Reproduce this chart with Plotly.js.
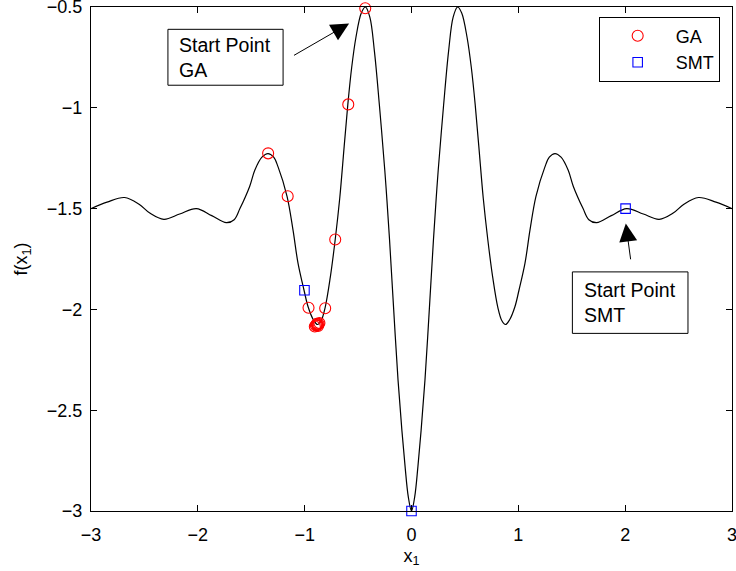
<!DOCTYPE html>
<html>
<head>
<meta charset="utf-8">
<script src="https://cdn.plot.ly/plotly-3.0.1.min.js"></script>
<style>html,body{margin:0;padding:0;background:#fff;}#chart{width:736px;height:571px;}</style>
</head>
<body>
<div id="chart"></div>
<script>
// Curve f(x1), points
var curveX = [-3.00,-2.85,-2.686,-2.55,-2.45,-2.318,-2.17,-2.014,-1.87,-1.733,-1.66,-1.606,-1.515,-1.467,-1.40,-1.343,-1.29,-1.249,-1.165,-1.109,-1.062,-1.006,-0.968,-0.92,-0.88,-0.845,-0.808,-0.76,-0.714,-0.672,-0.63,-0.596,-0.56,-0.52,-0.47,-0.432,-0.39,-0.347,-0.30,-0.25,-0.23,-0.206,-0.172,-0.126,-0.09,-0.06,-0.03,0,
  0.03,0.06,0.09,0.126,0.172,0.206,0.23,0.25,0.30,0.347,0.39,0.432,0.47,0.52,0.56,0.596,0.63,0.672,0.714,0.76,0.808,0.845,0.88,0.92,0.968,1.006,1.062,1.109,1.165,1.249,1.29,1.343,1.40,1.467,1.515,1.606,1.66,1.733,1.87,2.014,2.17,2.318,2.45,2.55,2.686,2.85,3.00];
var curveY = [-1.500,-1.468,-1.445,-1.478,-1.522,-1.553,-1.527,-1.500,-1.535,-1.570,-1.555,-1.500,-1.390,-1.310,-1.245,-1.227,-1.245,-1.293,-1.439,-1.607,-1.772,-1.905,-1.987,-2.050,-2.075,-2.055,-1.990,-1.840,-1.653,-1.450,-1.190,-0.983,-0.800,-0.650,-0.530,-0.500,-0.550,-0.720,-0.990,-1.310,-1.458,-1.650,-1.954,-2.351,-2.600,-2.780,-2.930,-3.000,
  -2.930,-2.780,-2.600,-2.351,-1.954,-1.650,-1.458,-1.310,-0.990,-0.720,-0.550,-0.500,-0.530,-0.650,-0.800,-0.983,-1.190,-1.450,-1.653,-1.840,-1.990,-2.055,-2.075,-2.050,-1.987,-1.905,-1.772,-1.607,-1.439,-1.293,-1.245,-1.227,-1.245,-1.310,-1.390,-1.500,-1.555,-1.570,-1.535,-1.500,-1.527,-1.553,-1.522,-1.478,-1.445,-1.468,-1.500];

// GA iterates
var gaX = [-0.433,-0.592,-1.342,-1.159,-0.714,-0.964,-0.808,-0.905,-0.895,-0.885,-0.878,-0.870,-0.862,-0.875,-0.888];
var gaY = [-0.506,-0.983,-1.226,-1.439,-1.653,-1.992,-1.994,-2.085,-2.080,-2.078,-2.075,-2.072,-2.068,-2.082,-2.072];

// SMT iterates
var smtX = [2.004,-1.002,0.0];
var smtY = [-1.500,-1.905,-3.000];

var xTicks = [-3,-2,-1,0,1,2,3];
var yTicks = [-3,-2.5,-2,-1.5,-1,-0.5];

var FONT = 'Liberation Sans, Arial, Helvetica, sans-serif';

var traces = [
  {x: curveX, y: curveY, mode: 'lines', line: {color: '#000', width: 1.2, shape: 'spline', smoothing: 1}, showlegend: false, hoverinfo: 'skip'},
  {x: gaX, y: gaY, mode: 'markers', name: 'GA', cliponaxis: false,
   marker: {symbol: 'circle-open', size: 11, color: '#ff0000', line: {width: 1.1, color: '#ff0000'}}},
  {x: smtX, y: smtY, mode: 'markers', name: 'SMT', cliponaxis: false,
   marker: {symbol: 'square-open', size: 9.5, color: '#0000ff', line: {width: 1.1, color: '#0000ff'}}}
];

var axisCommon = {
  showgrid: false, zeroline: false, showline: true, linecolor: '#000', linewidth: 1,
  mirror: 'ticks', ticks: 'inside', ticklen: 6, tickwidth: 1, tickcolor: '#000',
  ticklabeloverflow: 'allow',
  tickfont: {family: FONT, size: 18, color: '#000'}
};

var layout = {
  width: 736, height: 571,
  margin: {l: 91, r: 4, t: 7, b: 60},
  paper_bgcolor: '#fff', plot_bgcolor: '#fff',
  font: {family: FONT, color: '#000'},
  xaxis: Object.assign({}, axisCommon, {range: [-3.0001, 3.0001], tickvals: xTicks, ticktext: xTicks.map(function(v){return (v<0?'\u2212':'')+Math.abs(v);}), ticklabelstandoff: 7,
    title: {text: 'x<sub>1</sub>', font: {family: FONT, size: 18}, standoff: 5}}),
  yaxis: Object.assign({}, axisCommon, {range: [-3.0001, -0.4999], tickvals: yTicks, ticktext: yTicks.map(function(v){return (v<0?'\u2212':'')+Math.abs(v);}), ticklabelstandoff: 4,
    title: {text: 'f(x<sub>1</sub>)', font: {family: FONT, size: 18}, standoff: 14}}),
  showlegend: true,
  legend: {x: 0.792, y: 0.981, xanchor: 'left', yanchor: 'top', bordercolor: '#000', borderwidth: 1,
    bgcolor: '#fff', font: {family: FONT, size: 18, color: '#000'}, itemwidth: 66, tracegroupgap: 0},
  shapes: [
    {type: 'rect', xref: 'x', yref: 'y', x0: -2.280, x1: -1.202, y0: -0.6106, y1: -0.888, line: {color: '#000', width: 1}, fillcolor: '#fff', layer: 'above'},
    {type: 'rect', xref: 'x', yref: 'y', x0: 1.506, x1: 2.588, y0: -1.814, y1: -2.119, line: {color: '#000', width: 1}, fillcolor: '#fff', layer: 'above'}
  ],
  annotations: [
    {xref: 'x', yref: 'y', x: -2.195, y: -0.749, xanchor: 'left', yanchor: 'middle', align: 'left', showarrow: false,
     text: 'Start Point<br>GA', font: {family: FONT, size: 19.5, color: '#000'}},
    {xref: 'x', yref: 'y', x: 1.596, y: -1.967, xanchor: 'left', yanchor: 'middle', align: 'left', showarrow: false,
     text: 'Start Point<br>SMT', font: {family: FONT, size: 19.5, color: '#000'}},
    {xref: 'x', yref: 'y', axref: 'x', ayref: 'y', x: -0.584, y: -0.582, ax: -1.114, ay: -0.744, text: '',
     showarrow: true, arrowhead: 2, arrowsize: 3.6, arrowwidth: 1, arrowcolor: '#000', standoff: 0, startstandoff: 0},
    {xref: 'x', yref: 'y', axref: 'x', ayref: 'y', x: 2.006, y: -1.574, ax: 2.053, ay: -1.759, text: '',
     showarrow: true, arrowhead: 2, arrowsize: 3.6, arrowwidth: 1, arrowcolor: '#000', standoff: 0, startstandoff: 0}
  ]
};

Plotly.newPlot('chart', traces, layout, {displayModeBar: false, staticPlot: true});
</script>
</body>
</html>
